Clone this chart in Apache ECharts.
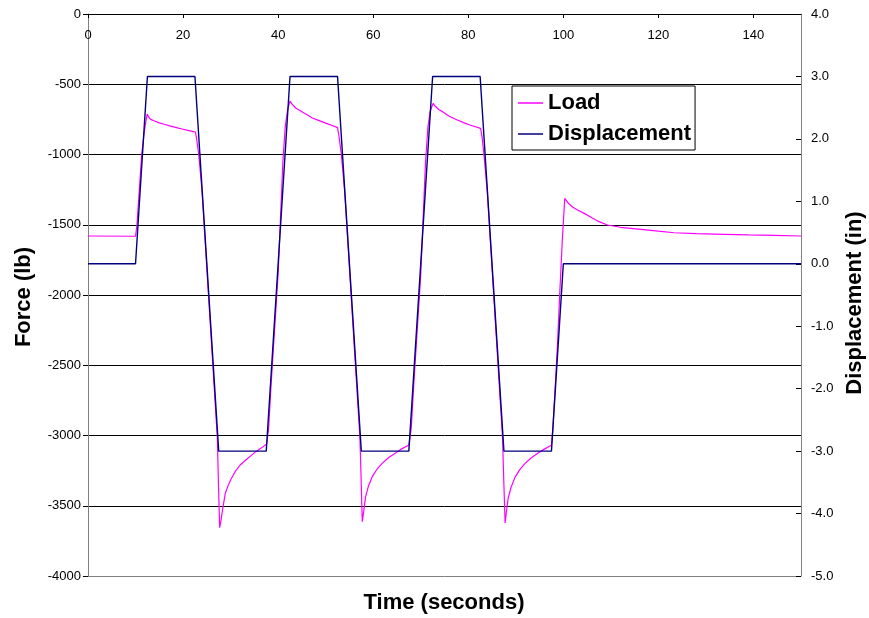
<!DOCTYPE html>
<html>
<head>
<meta charset="utf-8">
<script src="https://cdn.jsdelivr.net/npm/echarts@6/dist/echarts.min.js"></script>
<style>
  html, body { margin: 0; padding: 0; background: #fff; }
  #chart { width: 869px; height: 618px; }
</style>
</head>
<body>
<div id="chart"></div>
<script>
// Actuator displacement command (in) at its corner points
const dispTime  = [0, 10, 12.5, 22.5, 27.5, 37.5, 42.5, 52.5, 57.5, 67.5, 72.5, 82.5, 87.5, 97.5, 100, 150];
const dispValue = [0, 0, 3, 3, -3, -3, 3, 3, -3, -3, 3, 3, -3, -3, 0, 0];

// Measured load (lb)
const loadTime = [
  0, 10.0, 10.3, 10.8, 11.3, 11.8, 12.2, 12.45,
  12.8, 13.2, 14, 15, 16, 17, 18, 19, 20, 21, 22, 22.6,
  22.9, 23.3, 24, 25, 26, 27, 27.2, 27.45, 27.7,
  28.0, 28.3, 28.9, 29.5, 30, 31, 32, 33.2, 34.3, 35.3, 36.5, 37.6,
  38.0, 38.5, 39, 40, 41, 41.5, 42.0, 42.5,
  42.9, 43.7, 45, 46, 47.2, 48.5, 50, 51.5, 52.5,
  52.8, 53.3, 54, 55, 56, 57, 57.2, 57.45, 57.7,
  58.0, 58.4, 59.0, 59.8, 60.8, 61.9, 63.2, 64.7, 66, 67.5,
  68.0, 68.5, 69, 70, 71, 71.5, 72.0, 72.6,
  73.0, 73.8, 74.6, 76, 77.7, 79, 80.5, 82.6,
  82.9, 83.3, 84, 85, 86, 87, 87.2, 87.45, 87.75,
  88.0, 88.4, 89, 89.8, 90.8, 91.9, 93.2, 94.7, 96, 97.5,
  97.8, 98.3, 98.8, 99.3, 99.8, 100.3,
  101, 102, 103, 104.4, 106, 107.5, 109.3, 112, 116.3, 120, 123.3, 128, 133.8, 139, 144.3, 150
];
const loadForce = [
  -1580, -1582, -1500, -1250, -1000, -850, -760, -712,
  -735, -750, -762, -775, -785, -795, -803, -812, -820, -828, -835, -840,
  -900, -1000, -1265, -1808, -2355, -2900, -3008, -3350, -3656,
  -3600, -3530, -3409, -3355, -3317, -3255, -3210, -3174, -3143, -3115, -3088, -3060,
  -2950, -2650, -2380, -1850, -1050, -800, -680, -619,
  -640, -669, -695, -715, -740, -757, -777, -795, -809,
  -870, -1000, -1265, -1808, -2355, -2900, -3008, -3300, -3613,
  -3540, -3435, -3360, -3293, -3240, -3198, -3158, -3125, -3095, -3068,
  -2950, -2660, -2390, -1860, -1060, -810, -690, -636,
  -655, -680, -695, -728, -754, -773, -792, -814,
  -875, -1000, -1265, -1808, -2355, -2900, -3008, -3300, -3623,
  -3550, -3445, -3370, -3300, -3245, -3200, -3160, -3125, -3097, -3070,
  -2950, -2650, -2330, -1950, -1600, -1312,
  -1345, -1375, -1395, -1419, -1450, -1478, -1502, -1518, -1533, -1546, -1557, -1563, -1568, -1572, -1575, -1580
];

const dispData = dispTime.map((t, i) => [t, dispValue[i]]);
const loadData = loadTime.map((t, i) => [t, loadForce[i]]);

const FONT = 'Liberation Sans, Arial, sans-serif';
const gridColors = ['#808080', '#000', '#000', '#000', '#000', '#000', '#000', '#000', '#000'];

const chart = echarts.init(document.getElementById('chart'), null, { renderer: 'canvas' });
chart.setOption({
  backgroundColor: '#ffffff',
  animation: false,
  grid: { left: 88, right: 68, top: 14, bottom: 42, containLabel: false },
  legend: {
    left: 512, top: 86,
    orient: 'vertical',
    backgroundColor: '#ffffff',
    borderColor: '#000000',
    borderWidth: 1,
    padding: [6, 4, 5, 6],
    icon: 'rect',
    itemWidth: 25, itemHeight: 1.5, itemGap: 9,
    textStyle: { fontFamily: FONT, fontSize: 22, fontWeight: 'bold', color: '#000', padding: [0, 0, 0, 0] },
    data: ['Load', 'Displacement']
  },
  xAxis: {
    type: 'value', position: 'top',
    min: 0, max: 150, interval: 20,
    axisLine: { show: true, onZero: false, lineStyle: { color: '#000', width: 1 } },
    axisTick: { show: true, inside: true, length: 4, lineStyle: { color: '#000' } },
    axisLabel: { inside: true, margin: 15, showMaxLabel: false, fontFamily: FONT, fontSize: 13, color: '#000' },
    splitLine: { show: false }
  },
  yAxis: [
    {
      type: 'value', position: 'left',
      min: -4000, max: 0, interval: 500,
      axisLine: { show: true, onZero: false, lineStyle: { color: '#808080', width: 1 } },
      axisTick: { show: true, inside: false, length: 5, lineStyle: { color: '#000' } },
      axisLabel: { margin: 7, fontFamily: FONT, fontSize: 13, color: '#000',
        formatter: v => String(v) },
      splitLine: { show: true, lineStyle: { color: gridColors, width: 1 } }
    },
    {
      type: 'value', position: 'right',
      min: -5, max: 4, interval: 1,
      axisLine: { show: true, onZero: false, lineStyle: { color: '#808080', width: 1 } },
      axisTick: { show: true, inside: true, length: 5, lineStyle: { color: '#000' } },
      axisLabel: { margin: 10, fontFamily: FONT, fontSize: 13, color: '#000',
        formatter: v => v.toFixed(1) },
      splitLine: { show: false }
    }
  ],
  series: [
    {
      name: 'Load', type: 'line', yAxisIndex: 0,
      data: loadData, symbol: 'none', smooth: false,
      lineStyle: { color: '#ff00ff', width: 1.2 },
      itemStyle: { color: '#ff00ff' }
    },
    {
      name: 'Displacement', type: 'line', yAxisIndex: 1,
      data: dispData, symbol: 'none', smooth: false,
      lineStyle: { color: '#000080', width: 1.4 },
      itemStyle: { color: '#000080' }
    }
  ],
  graphic: [
    { type: 'text', x: 444, y: 603,
      style: { text: 'Time (seconds)', font: 'bold 22px ' + FONT, fill: '#000', align: 'center', verticalAlign: 'middle' } },
    { type: 'text', x: 24, y: 297, rotation: Math.PI / 2,
      style: { text: 'Force (lb)', font: 'bold 22px ' + FONT, fill: '#000', align: 'center', verticalAlign: 'middle' } },
    { type: 'text', x: 855, y: 303, rotation: Math.PI / 2,
      style: { text: 'Displacement (in)', font: 'bold 22px ' + FONT, fill: '#000', align: 'center', verticalAlign: 'middle' } }
  ]
});
</script>
</body>
</html>
